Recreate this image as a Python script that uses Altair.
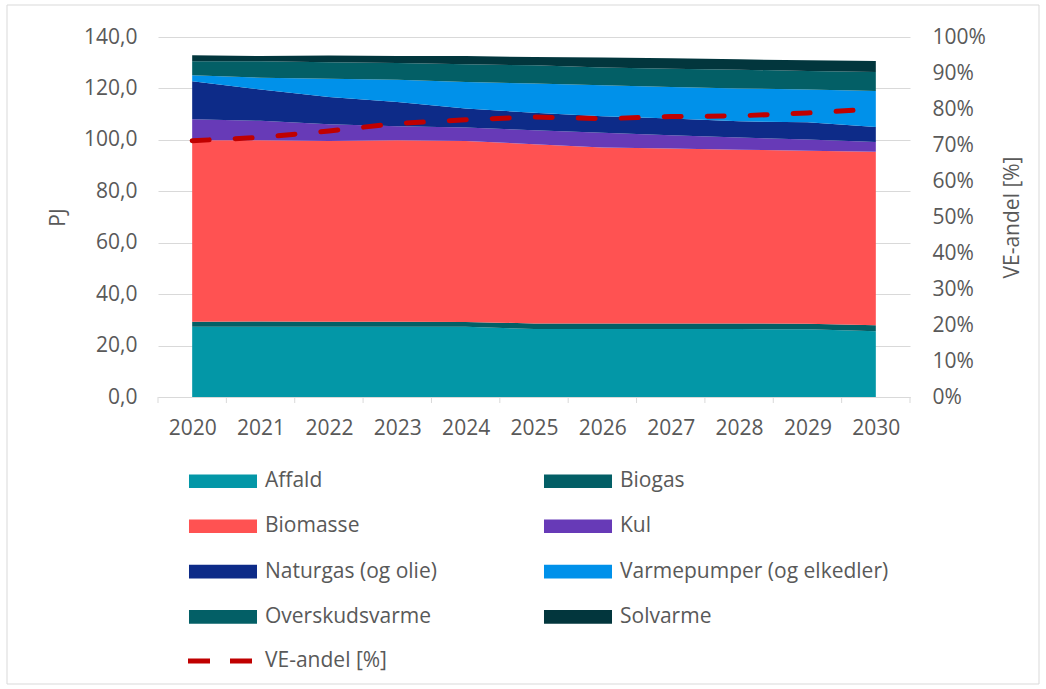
import altair as alt
import pandas as pd

years = [2020, 2021, 2022, 2023, 2024, 2025, 2026, 2027, 2028, 2029, 2030]

affald = [27.3, 27.3, 27.3, 27.3, 27.3, 26.4, 26.4, 26.4, 26.4, 26.3, 25.6]
biogas = [2.0, 2.1, 2.0, 2.0, 1.9, 2.2, 2.2, 2.2, 2.2, 2.2, 2.3]
biomasse = [70.5, 70.4, 70.3, 70.5, 70.4, 69.7, 68.4, 68.0, 67.6, 67.3, 67.5]
kul = [8.2, 7.6, 6.5, 5.5, 5.2, 5.4, 5.8, 5.2, 4.7, 4.3, 3.8]
naturgas = [14.8, 12.2, 10.6, 9.4, 7.4, 6.8, 6.4, 6.5, 6.3, 6.7, 5.8]
varmepumper = [2.3, 4.6, 7.1, 8.7, 10.3, 11.4, 12.0, 12.3, 12.8, 12.8, 14.0]
overskudsvarme = [5.5, 6.4, 6.4, 6.5, 6.9, 7.1, 6.9, 7.1, 7.3, 7.2, 7.4]
solvarme = [2.3, 2.0, 2.6, 2.7, 3.2, 3.2, 3.9, 4.0, 4.0, 4.2, 4.3]

ve_name = "VE-andel [%]"
ve_andel = [0.712, 0.721, 0.739, 0.760, 0.770, 0.778, 0.773, 0.779, 0.781, 0.789, 0.800]

series_names = ["Affald", "Biogas", "Biomasse", "Kul", "Naturgas (og olie)",
                "Varmepumper (og elkedler)", "Overskudsvarme", "Solvarme"]
series_values = [affald, biogas, biomasse, kul, naturgas, varmepumper, overskudsvarme, solvarme]
series_colors = ["#0397A7", "#035F66", "#FF5252", "#673AB7", "#0D2B88",
                 "#0091EA", "#035F66", "#02363D"]
ve_color = "#C00000"

y_ticks = [0, 20, 40, 60, 80, 100, 120, 140]
pct_ticks = [0, 0.1, 0.2, 0.3, 0.4, 0.5, 0.6, 0.7, 0.8, 0.9, 1.0]

rows = []
for i, (name, vals) in enumerate(zip(series_names, series_values)):
    for yr, v in zip(years, vals):
        rows.append({"year": yr, "series": name, "value": v, "idx": i})
df_area = pd.DataFrame(rows)
df_line = pd.DataFrame({"year": years, "ve": ve_andel, "name": [ve_name] * len(years)})
df_ticks = pd.DataFrame({"b": [y - 0.5 for y in years] + [years[-1] + 0.5]})
df_one = pd.DataFrame({"k": [0]})

FONT = "Open Sans"
TXT = "#595959"
GRID = "#D9D9D9"
FS = 21

x_scale = alt.Scale(domain=[years[0] - 0.5, years[-1] + 0.5], nice=False, zero=False)
x_axis = alt.Axis(values=years, format="d", ticks=False, grid=False, domainColor=GRID,
                  domainWidth=1, labelPadding=20, title=None, labelFlush=False)

border = alt.Chart(df_one).mark_rect(filled=False, stroke=GRID, strokeWidth=1).encode(
    x=alt.value(-151), x2=alt.value(881), y=alt.value(-32), y2=alt.value(647)
)

areas = alt.Chart(df_area).mark_area(interpolate="linear").encode(
    x=alt.X("year:Q", scale=x_scale, axis=x_axis),
    y=alt.Y("value:Q", stack="zero",
            scale=alt.Scale(domain=[0, 140], nice=False),
            axis=alt.Axis(values=y_ticks,
                          labelExpr="replace(format(datum.value, '.1f'), '.', ',')",
                          title="PJ", grid=True, gridColor=GRID, domain=False, ticks=False,
                          labelPadding=21, titleX=-100, titleY=180, titleAngle=270,
                          titleBaseline="middle", titleAlign="center")),
    color=alt.Color("series:N",
                    scale=alt.Scale(domain=series_names, range=series_colors),
                    legend=alt.Legend(title=None, orient="none", legendX=54.5, legendY=433.5,
                                      direction="horizontal", columns=2,
                                      columnPadding=106, rowPadding=23.3,
                                      symbolType="M-5,-1H5V1H-5Z", symbolSize=185,
                                      symbolStrokeWidth=0, labelOffset=31.5)),
    order=alt.Order("idx:Q", sort="ascending"),
)

ticks = alt.Chart(df_ticks).mark_rule(color=GRID, strokeWidth=1).encode(
    x=alt.X("b:Q", scale=x_scale, axis=x_axis),
    y=alt.value(360), y2=alt.value(366),
)

line = alt.Chart(df_line).mark_line(strokeWidth=5, strokeDash=[17, 26], strokeCap="round",
                                    interpolate="linear").encode(
    x=alt.X("year:Q", scale=x_scale, axis=x_axis),
    y=alt.Y("ve:Q", scale=alt.Scale(domain=[0, 1], nice=False),
            axis=alt.Axis(orient="right", values=pct_ticks, format=".0%", grid=False,
                          domain=False, ticks=False, labelPadding=22, title=ve_name,
                          titleAngle=270, titleX=102, titleY=180, titleBaseline="middle",
                          titleAlign="center")),
    color=alt.Color("name:N", scale=alt.Scale(domain=[ve_name], range=[ve_color]),
                    legend=alt.Legend(title=None, orient="none", legendX=51.5, legendY=613.5,
                                      symbolType="M-5,0H5", symbolSize=163.84,
                                      symbolStrokeWidth=5, symbolDash=[22, 20],
                                      labelOffset=34.5)),
)

chart = alt.layer(border, areas, ticks, line).resolve_scale(
    y="independent", color="independent"
).properties(
    width=752, height=360,
    autosize=alt.AutoSizeParams(type="none"),
    padding={"left": 158, "top": 37, "right": 136, "bottom": 292},
    background="white",
).configure_view(strokeWidth=0).configure_axis(
    labelFont=FONT, labelFontSize=FS, labelColor=TXT,
    titleFont=FONT, titleFontSize=FS, titleColor=TXT, titleFontWeight="normal",
).configure_legend(
    labelFont=FONT, labelFontSize=FS, labelColor=TXT, labelLimit=400,
)

chart.save("out.html", embed_options={"renderer": "svg", "actions": False})
